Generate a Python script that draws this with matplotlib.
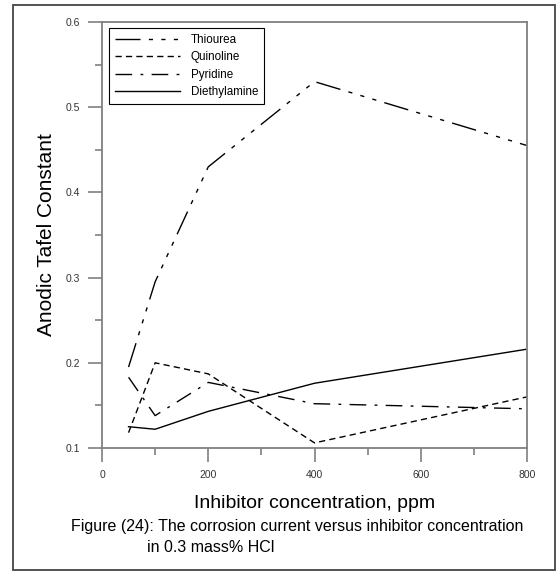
import matplotlib
import matplotlib.pyplot as plt
from matplotlib.patches import Rectangle

matplotlib.use("Agg")

plt.rcParams["font.family"] = ["Liberation Sans", "DejaVu Sans"]

# data
conc = [50, 100, 200, 400, 800]
thiourea = [0.195, 0.295, 0.430, 0.530, 0.455]
quinoline = [0.118, 0.200, 0.187, 0.106, 0.160]
pyridine = [0.183, 0.138, 0.177, 0.152, 0.146]
diethylamine = [0.125, 0.122, 0.143, 0.176, 0.216]

x_ticks = [0, 200, 400, 600, 800]
y_ticks = [0.1, 0.2, 0.3, 0.4, 0.5, 0.6]

fig = plt.figure(figsize=(5.58, 5.72), dpi=100)
ax = fig.add_axes([102 / 558, 1 - 448 / 572, 425 / 558, 426 / 572])

# outer frame around the whole figure
fig.patches.append(Rectangle((13 / 558, 2 / 572), 542 / 558, 565 / 572,
                             transform=fig.transFigure, fill=False,
                             edgecolor="#444444", linewidth=1.3))

ax.plot(conc, thiourea, color="black", lw=1.0,
        dashes=(18, 6, 3, 6, 3, 6, 3, 6), label="Thiourea")
ax.plot(conc, quinoline, color="black", lw=1.0,
        dashes=(4.5, 3), label="Quinoline")
ax.plot(conc, pyridine, color="black", lw=1.0,
        dashes=(12, 6, 2, 6), label="Pyridine")
ax.plot(conc, diethylamine, color="black", lw=1.0, label="Diethylamine")

ax.set_xlim(0, 800)
ax.set_ylim(0.1, 0.6)
ax.set_xticks(x_ticks)
ax.set_xticks(range(100, 800, 200), minor=True)
ax.set_yticks(y_ticks)
ax.set_yticks([0.15, 0.25, 0.35, 0.45, 0.55], minor=True)
ax.set_xticklabels([str(v) for v in x_ticks])
ax.set_yticklabels(["%.1f" % v for v in y_ticks])

for s in ax.spines.values():
    s.set_color("#808080")
    s.set_linewidth(1.3)
ax.tick_params(which="major", direction="out", length=10, width=1.2,
               color="#808080", labelsize=7.5, labelcolor="#333333", pad=6)
ax.tick_params(which="minor", direction="out", length=5, width=1.2,
               color="#808080")

ax.set_ylabel("Anodic Tafel Constant", fontsize=15, labelpad=7)
ax.set_xlabel("Inhibitor concentration, ppm", fontsize=14, labelpad=11)

leg = ax.legend(loc="upper left", bbox_to_anchor=(0.003, 0.999),
                fontsize=8.4, handlelength=5.6, fancybox=False, framealpha=1,
                edgecolor="black", borderpad=0.5, labelspacing=0.45,
                handletextpad=0.9)
leg.get_frame().set_linewidth(0.8)

fig.text(71 / 558, 1 - 526 / 572,
         "Figure (24): The corrosion current versus inhibitor concentration",
         fontsize=11.5, va="center", ha="left")
fig.text(147 / 558, 1 - 548 / 572, "in 0.3 mass% HCl",
         fontsize=11.5, va="center", ha="left")

fig.savefig("out.png", dpi=100)
